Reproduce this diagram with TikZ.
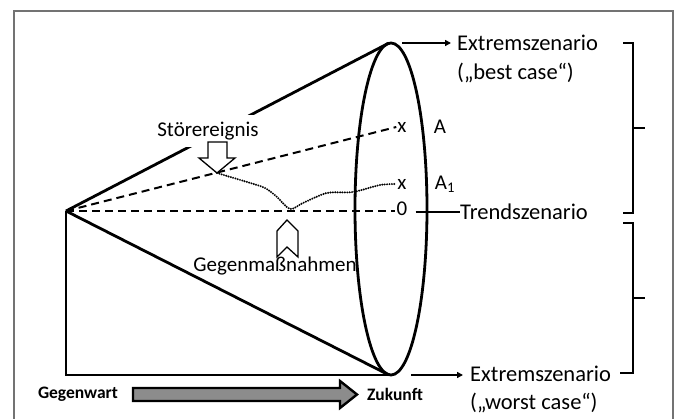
\documentclass[tikz,border=0pt]{standalone}
\usepackage{fontspec}
\setmainfont{Carlito}
\usetikzlibrary{arrows.meta}

\begin{document}
\begin{tikzpicture}[x=1pt,y=-1pt,
  cone/.style={line width=2.8pt},
  dashline/.style={line width=2pt, dash pattern=on 8pt off 5pt},
  lbl/.style={font=\fontsize{21}{25}\selectfont, inner sep=1pt},
  rlbl/.style={font=\fontsize{22.5}{26}\selectfont, inner sep=0pt, anchor=west},
  tlbl/.style={font=\bfseries\fontsize{17.5}{20}\selectfont, inner sep=1pt},
  brack/.style={line width=1.6pt},
  hollow/.style={draw, line width=1.3pt, fill=white, line join=miter}]
\useasboundingbox (0,0) rectangle (678,419);
\draw[line width=1.2pt, black!55] (14,430) -- (14,11) -- (673,11) -- (673,430);

% cone
\coordinate (apex) at (66,211);
\coordinate (top) at (389,43);
\coordinate (bot) at (389,375);
\draw[line width=1.6pt] (apex) -- (66,375) -- (bot);
\draw[cone] (apex) -- (top);
\draw[cone] (apex) -- (bot);
\draw[cone] (391,209) ellipse [x radius=36, y radius=166];

% points on the cone
\node[lbl] (xa) at (402,127) {x};
\node[lbl] (A) at (440,127) {A};
\node[lbl] (xb) at (402,184) {x};
\node[lbl] (B) at (445,184) {A\textsubscript{1}};
\node[lbl] (x0) at (402,209) {0};
\draw[dashline] (apex) -- (xa.west);
\draw[dashline] (apex) -- (x0.west |- apex);

% disturbance
\node[lbl, fill=white, inner ysep=7pt] (stoer) at (208,131) {Störereignis};
\coordinate (hit) at (217,173);
\draw[hollow] (208,142) -- (227,142) -- (227,158) -- (235,158) -- (hit)
  -- (199,158) -- (208,158) -- cycle;
\draw[line width=2.2pt, dash pattern=on 0pt off 2.4pt, line cap=round]
  plot[smooth] coordinates {(hit) (247,182) (265,188) (277,197) (290,209)
  (303,203) (327,193) (353,192) (380,185) (396,184)};

% counter measures
\draw[hollow] (287,220) -- (298,231) -- (298,257) -- (287,247) -- (277,257)
  -- (277,231) -- cycle;
\node[lbl] (gegen) at (275,266) {Gegenmaßnahmen};

% scenarios
\node[rlbl] (best) at (457,43) {Extremszenario};
\node[rlbl] (best2) at (457,73) {(„best case“)};
\node[rlbl] (trend) at (460,212) {Trendszenario};
\node[rlbl] (worst) at (470,374) {Extremszenario};
\node[rlbl] (worst2) at (470,403) {(„worst case“)};
\draw[line width=2.6pt, -{Triangle[length=6pt,width=6pt]}] (402,43) -- ([xshift=-6pt]best.west);
\draw[line width=2pt, -{Triangle[length=6pt,width=6pt]}] (411,375) -- ([xshift=-7pt]worst.west |- 0,375);
\draw[line width=1.3pt] ([xshift=7pt]x0.east |- trend.west) -- (trend.west);

% brackets
\draw[brack] (623,43) -- (633,43) -- (633,213) -- (623,213);
\draw[brack] (633,128) -- (645,128);
\draw[brack] (623,223) -- (633,223) -- (633,373) -- (620,373);
\draw[brack] (633,298) -- (645,298);

% time axis
\node[tlbl] (heute) at (78,394) {Gegenwart};
\node[tlbl] (morgen) at (395,394) {Zukunft};
\draw[line width=2.4pt, fill=black!45, line join=miter]
  (133,388) -- (340,388) -- (340,381) -- (357,394.5) -- (340,408) -- (340,401)
  -- (133,401) -- cycle;
\end{tikzpicture}
\end{document}
